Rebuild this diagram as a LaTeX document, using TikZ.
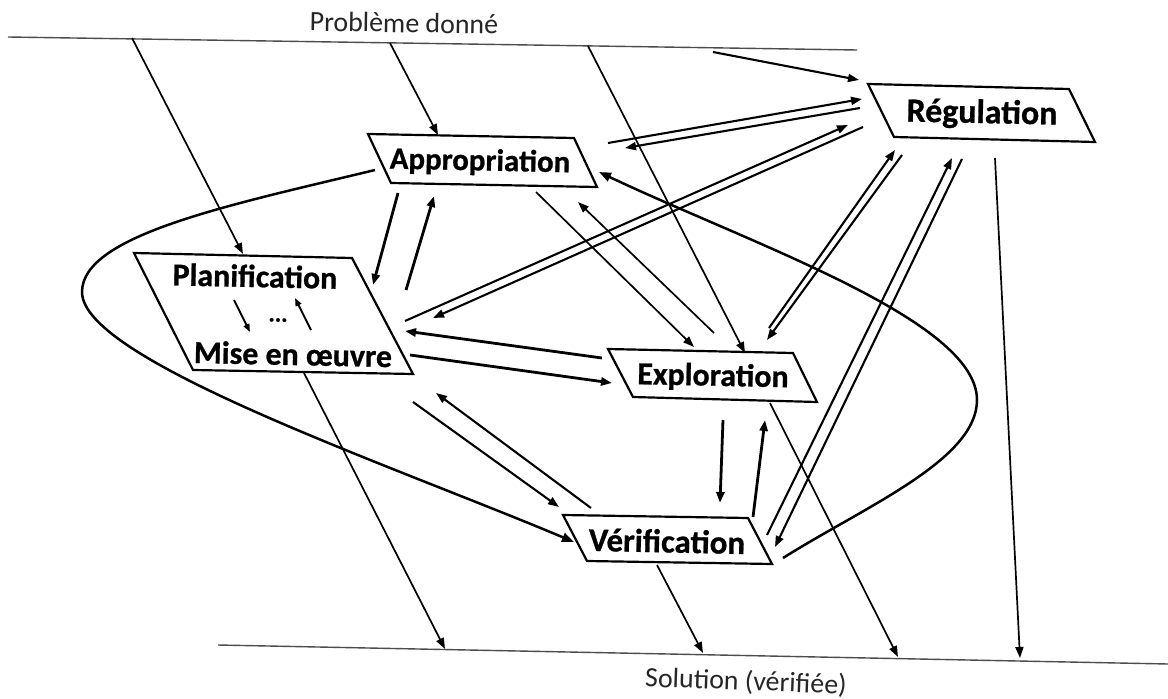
\documentclass[tikz,border=0pt]{standalone}
\usepackage{fontspec}
\setmainfont{Carlito}
\newfontfamily\boxfont{Carlito}[BoldFeatures={FakeBold=0.8}]
\usetikzlibrary{arrows.meta}
\tikzset{
  rule/.style={line width=1.4pt, black!70},
  box/.style={line width=2.2pt, line join=miter},
  lbl/.style={font=\boxfont\bfseries\fontsize{31}{36}\selectfont, inner sep=0pt, rotate=-1.2},
  plain/.style={font=\fontsize{28}{32}\selectfont, inner sep=0pt, text=black!85},
  tip/.style={-{Triangle[length=11bp,width=8bp]}},
  thinarr/.style={tip, line width=1.7pt},
  medarr/.style={tip, line width=2.1pt},
  thickarr/.style={tip, line width=2.8pt},
  smallarr/.style={-{Triangle[length=8bp,width=6bp]}, line width=2pt},
  loopline/.style={line width=2.5pt, -{Triangle[length=12bp,width=9bp]}}
}
\begin{document}
\begin{tikzpicture}[x=1bp,y=-1bp]
\useasboundingbox[fill=white] (0,0) rectangle (1168,699);

% top and bottom rules
\coordinate (t1) at (8,37);
\coordinate (t2) at (857,50);
\coordinate (b1) at (218,645);
\coordinate (b2) at (1168,664);
\draw[rule] (t1) -- (t2);
\draw[rule] (b1) -- (b2);
\node[plain, rotate=-1] (prob) at (404,23) {Problème donné};
\node[plain, rotate=-2] (sol) at (746,682) {Solution (vérifiée)};

% boxes
\coordinate (ap1) at (368,134); \coordinate (ap2) at (574,138);
\coordinate (ap3) at (597,187); \coordinate (ap4) at (391,183);
\draw[box] (ap1)--(ap2)--(ap3)--(ap4)--cycle;
\node[lbl] (appr) at (480,162) {Appropriation};

\coordinate (re1) at (868,84); \coordinate (re2) at (1069,89);
\coordinate (re3) at (1095,142); \coordinate (re4) at (894,137);
\draw[box] (re1)--(re2)--(re3)--(re4)--cycle;
\node[lbl, font=\boxfont\bfseries\fontsize{34}{40}\selectfont] (regu) at (982,114) {Régulation};

\coordinate (pl1) at (134,253); \coordinate (pl2) at (352,258);
\coordinate (pl3) at (413,374); \coordinate (pl4) at (193,370);
\draw[box] (pl1)--(pl2)--(pl3)--(pl4)--cycle;
\node[lbl, font=\boxfont\bfseries\fontsize{32}{38}\selectfont] (plan) at (255,276) {Planification};
\node[lbl, font=\boxfont\bfseries\fontsize{32}{38}\selectfont] (mise) at (293,354) {Mise en œuvre};
\node[lbl, font=\boxfont\bfseries\fontsize{24}{28}\selectfont] (dots) at (278,320) {...};
\coordinate (da1) at (234,300); \coordinate (da2) at (250,332);
\coordinate (ua1) at (311,330); \coordinate (ua2) at (295,298);
\draw[smallarr] (da1) -- (da2);
\draw[smallarr] (ua1) -- (ua2);

\coordinate (ex1) at (608,349); \coordinate (ex2) at (793,353);
\coordinate (ex3) at (817,402); \coordinate (ex4) at (633,397);
\draw[box] (ex1)--(ex2)--(ex3)--(ex4)--cycle;
\node[lbl, font=\boxfont\bfseries\fontsize{32}{38}\selectfont] (expl) at (713,377) {Exploration};

\coordinate (ve1) at (563,515); \coordinate (ve2) at (748,518);
\coordinate (ve3) at (772,564); \coordinate (ve4) at (587,561);
\draw[box] (ve1)--(ve2)--(ve3)--(ve4)--cycle;
\node[lbl, font=\boxfont\bfseries\fontsize{33}{38}\selectfont] (veri) at (667,541) {Vérification};

% connector end points
\coordinate (a1s) at (132,38);  \coordinate (a1e) at (243,254);
\coordinate (a2s) at (390,43);  \coordinate (a2e) at (438,135);
\coordinate (a3s) at (588,46);  \coordinate (a3e) at (745,353);
\coordinate (a4s) at (713,52);  \coordinate (a4e) at (859,80);
\coordinate (a5s) at (398,193); \coordinate (a5e) at (373,285);
\coordinate (a6s) at (406,290); \coordinate (a6e) at (434,196);
\coordinate (a7s) at (536,192); \coordinate (a7e) at (694,347);
\coordinate (a8s) at (714,333); \coordinate (a8e) at (578,202);
\coordinate (a9s) at (608,143); \coordinate (a9e) at (862,99);
\coordinate (a10s) at (860,108); \coordinate (a10e) at (625,148);
\coordinate (a11s) at (405,321); \coordinate (a11e) at (848,125);
\coordinate (a12s) at (863,127); \coordinate (a12e) at (433,318);
\coordinate (a13s) at (602,358); \coordinate (a13e) at (405,331);
\coordinate (a14s) at (410,355); \coordinate (a14e) at (612,383);
\coordinate (a15s) at (769,328); \coordinate (a15e) at (895,150);
\coordinate (a16s) at (902,155); \coordinate (a16e) at (767,340);
\coordinate (a17s) at (767,535); \coordinate (a17e) at (952,158);
\coordinate (a18s) at (962,159); \coordinate (a18e) at (775,547);
\coordinate (a19s) at (995,158); \coordinate (a19e) at (1020,658);
\coordinate (a20s) at (723,420); \coordinate (a20e) at (720,503);
\coordinate (a21s) at (753,517); \coordinate (a21e) at (765,420);
\coordinate (a22s) at (770,403); \coordinate (a22e) at (898,657);
\coordinate (a23s) at (413,402); \coordinate (a23e) at (559,507);
\coordinate (a24s) at (591,508); \coordinate (a24e) at (436,393);
\coordinate (a25s) at (657,565); \coordinate (a25e) at (703,653);
\coordinate (a26s) at (304,373); \coordinate (a26e) at (445,649);

% from the given problem
\draw[thinarr] (a1s) -- (a1e);
\draw[thinarr] (a2s) -- (a2e);
\draw[thinarr] (a3s) -- (a3e);
\draw[medarr]  (a4s) -- (a4e);
% appropriation <-> planification
\draw[thickarr] (a5s) -- (a5e);
\draw[thickarr] (a6s) -- (a6e);
% appropriation <-> exploration
\draw[thinarr] (a7s) -- (a7e);
\draw[thinarr] (a8s) -- (a8e);
% regulation pairs
\draw[medarr] (a9s) -- (a9e);
\draw[medarr] (a10s) -- (a10e);
\draw[medarr] (a11s) -- (a11e);
\draw[medarr] (a12s) -- (a12e);
\draw[medarr] (a15s) -- (a15e);
\draw[medarr] (a16s) -- (a16e);
\draw[medarr] (a17s) -- (a17e);
\draw[medarr] (a18s) -- (a18e);
% planification <-> exploration
\draw[thickarr] (a13s) -- (a13e);
\draw[thickarr] (a14s) -- (a14e);
% exploration <-> verification
\draw[thickarr] (a20s) -- (a20e);
\draw[thickarr] (a21s) -- (a21e);
% planification <-> verification
\draw[medarr] (a23s) -- (a23e);
\draw[medarr] (a24s) -- (a24e);
% to the solution
\draw[thinarr] (a19s) -- (a19e);
\draw[thinarr] (a22s) -- (a22e);
\draw[thinarr] (a25s) -- (a25e);
\draw[thinarr] (a26s) -- (a26e);

% loops
\coordinate (la1) at (375,170);
\coordinate (lam) at (82,292);
\coordinate (la2) at (574,542);
\draw[loopline] (la1) .. controls (230,205) and (82,235) .. (lam)
  .. controls (82,360) and (389,464) .. (la2);
\coordinate (lb1) at (783,558);
\coordinate (lbm) at (977,400);
\coordinate (lb2) at (599,172);
\draw[loopline] (lb1) .. controls (864,507) and (977,460) .. (lbm)
  .. controls (977,320) and (751,244) .. (lb2);
\end{tikzpicture}
\end{document}
